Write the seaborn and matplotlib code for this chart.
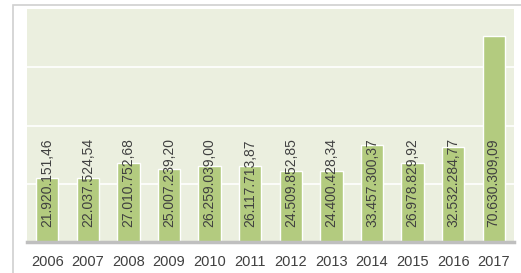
import pandas as pd
import seaborn as sns
import matplotlib.pyplot as plt
from matplotlib.patches import Rectangle

years = ['2006', '2007', '2008', '2009', '2010', '2011',
         '2012', '2013', '2014', '2015', '2016', '2017']
amounts = [21920151.46, 22037524.54, 27010752.68, 25007239.20, 26259039.00, 26117713.87,
           24509852.85, 24400428.34, 33457300.37, 26978829.92, 32532284.77, 70630309.09]


def fmt_de(v):
    s = f'{v:,.2f}'
    return s.replace(',', 'X').replace('.', ',').replace('X', '.')


sns.set_theme(style='white')
plt.rcParams['font.family'] = ['Liberation Sans', 'DejaVu Sans']

df = pd.DataFrame({'year': years, 'amount': amounts})

fig = plt.figure(figsize=(5.21, 2.73), dpi=100)
ax = fig.add_axes([27 / 521, 1 - 242 / 273, 487 / 521, 233 / 273])

# outer chart frame
fig.patches.append(Rectangle((12.5 / 521, -0.02), 0.99, 1 - 4.5 / 273 + 0.02,
                             transform=fig.transFigure, fill=False,
                             edgecolor='#d0d0d0', linewidth=1.2))

ax.set_facecolor('#ebefdf')
sns.barplot(data=df, x='year', y='amount', color='#b3cb7f', saturation=1,
            width=0.55, ax=ax, zorder=3)

ax.set_ylim(0, 80_000_000)
ax.set_yticks([20_000_000, 40_000_000, 60_000_000])
ax.yaxis.grid(True, color='white', linewidth=1.2, zorder=1)
ax.set_axisbelow(True)
ax.tick_params(axis='y', left=False, labelleft=False)
ax.tick_params(axis='x', bottom=False, length=0, labelsize=10.5, colors='#404040', pad=9)
ax.set_xlabel('')
ax.set_ylabel('')
for side in ['top', 'left', 'right']:
    ax.spines[side].set_visible(False)
ax.spines['bottom'].set_color('#bfbfbf')
ax.spines['bottom'].set_linewidth(2.5)
ax.spines['bottom'].set_zorder(4)

for i, v in enumerate(amounts):
    ax.annotate(fmt_de(v), xy=(i, 0), xytext=(0, 11), textcoords='offset points',
                rotation=90, ha='center', va='bottom', fontsize=10,
                color='#404040', zorder=5)

fig.savefig('out.png', dpi=100)
